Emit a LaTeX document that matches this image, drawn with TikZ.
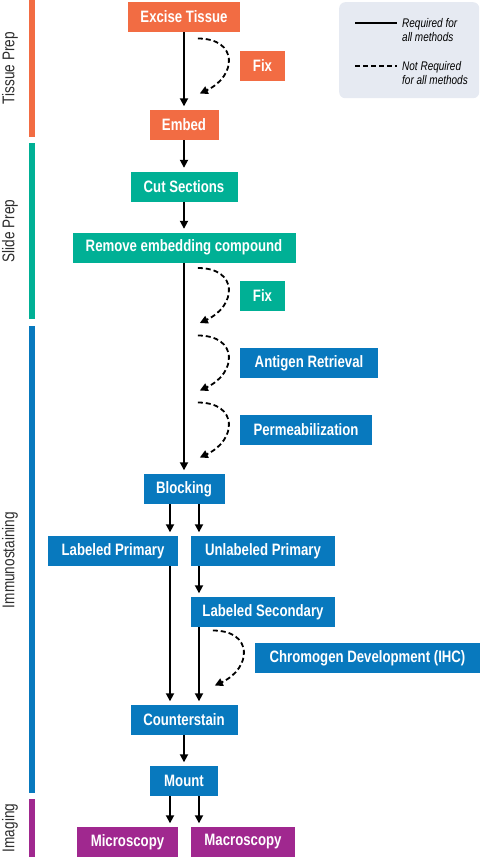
\documentclass[tikz,border=0pt]{standalone}
\usepackage{fontspec}
\setmainfont[FakeStretch=0.8]{Liberation Sans}
\usetikzlibrary{
  arrows.meta,
  positioning,
  calc
}
\definecolor{tissueOrange}{RGB}{242,108,67}
\definecolor{slideTeal}{RGB}{0,176,149}
\definecolor{stainBlue}{RGB}{8,121,190}
\definecolor{imagePurple}{RGB}{160,40,143}
\definecolor{legendGray}{RGB}{230,234,242}
\definecolor{labelGray}{RGB}{45,45,45}
\tikzset{
  stepbox/.style={
    fill=#1,
    text=white,
    inner sep = 0pt,
    minimum height = 30pt,
    font=\bfseries\fontsize{16.5}{18}\selectfont
  },
  sidelabel/.style={
    rotate=90,
    text=labelGray,
    inner sep=0pt,
    font=\fontsize{17}{18}\selectfont
  }
}

\begin{document}
\begin{tikzpicture}[
      x=1pt, y=1pt,
      arr/.style={-{Triangle[length=8pt,width=8pt]}, line width=1.8pt, shorten >=3.5pt},
      dasharr/.style={-{Triangle[length=8pt,width=8pt]}, line width=1.8pt,
        dash pattern=on 5pt off 3pt},
      legendtext/.style={anchor=west, align=left, inner sep=0pt,
        font=\itshape\fontsize{12.5}{14}\selectfont}
      ]
      \useasboundingbox (0,0) rectangle (480,-857);

      % side bars
      \fill[tissueOrange] (29,0) rectangle (35,-137);
      \fill[slideTeal] (29,-143) rectangle (35,-319);
      \fill[stainBlue] (29,-326) rectangle (35,-793);
      \fill[imagePurple] (29,-799) rectangle (35,-857);
      \node[sidelabel] (tissueLabel) at (10,-68) {Tissue Prep};
      \node[sidelabel] (slideLabel) at (10,-231) {Slide Prep};
      \node[sidelabel] (stainLabel) at (10,-560) {Immunostaining};
      \node[sidelabel] (imageLabel) at (10,-828) {Imaging};

      % steps
      \foreach \n/\x/\y/\w/\t in {excise/184/17/112/Excise Tissue,
          fixA/262.5/66/45/Fix, embed/184/125/69/Embed}{
        \node[stepbox=tissueOrange, minimum width=\w pt] (\n) at (\x,-\y) {\t};
      }
      \foreach \n/\x/\y/\w/\t in {cut/184/186.5/107/Cut Sections,
          remove/184/247.5/223/Remove embedding compound,
          fixB/262.5/295.5/45/Fix}{
        \node[stepbox=slideTeal, minimum width=\w pt] (\n) at (\x,-\y) {\t};
      }
      \foreach \n/\x/\y/\w/\t in {antigen/309/363/138/Antigen Retrieval,
          perm/306/430/132/Permeabilization, blocking/184/489/81/Blocking,
          labPrim/113/551/130/Labeled Primary,
          unlabPrim/263/551/144/Unlabeled Primary,
          labSec/263/612/144/Labeled Secondary,
          chromogen/367.5/658/225/Chromogen Development (IHC),
          counter/184/720/107/Counterstain, mount/184/781/68/Mount}{
        \node[stepbox=stainBlue, minimum width=\w pt] (\n) at (\x,-\y) {\t};
      }
      \foreach \n/\x/\y/\w/\t in {micro/127.5/842/101/Microscopy,
          macro/243/842/104/Macroscopy}{
        \node[stepbox=imagePurple, minimum width=\w pt] (\n) at (\x,-\y) {\t};
      }

      % required steps
      \draw[arr] (excise) -- (embed);
      \draw[arr] (embed) -- (cut);
      \draw[arr] (cut) -- (remove);
      \draw[arr] (remove) -- (blocking);
      \draw[arr] ([xshift=-14pt]blocking.south) -- ([xshift=-14pt]blocking.south |- labPrim.north);
      \draw[arr] ([xshift=15pt]blocking.south) -- ([xshift=15pt]blocking.south |- unlabPrim.north);
      \draw[arr] ([xshift=15pt]blocking.south |- unlabPrim.south) -- ([xshift=15pt]blocking.south |- labSec.north);
      \draw[arr] ([xshift=-14pt]blocking.south |- labPrim.south) -- ([xshift=-14pt]blocking.south |- counter.north);
      \draw[arr] ([xshift=15pt]blocking.south |- labSec.south) -- ([xshift=15pt]blocking.south |- counter.north);
      \draw[arr] (counter) -- (mount);
      \draw[arr] ([xshift=-14pt]mount.south) -- ([xshift=-14pt]mount.south |- micro.north);
      \draw[arr] ([xshift=15pt]mount.south) -- ([xshift=15pt]mount.south |- macro.north);

      % optional steps
      \foreach \s in {fixA, fixB, antigen, perm, chromogen}{
        \draw[dasharr] ([shift={(-42,27.5)}]\s.west |- \s.center)
          to[out=0, in=25, looseness=1.9] ([shift={(-40,-27.5)}]\s.west |- \s.center);
      }

      % legend
      \node[fill=legendGray, rounded corners=6pt, minimum width=140pt,
        minimum height=96pt, anchor=north west, inner sep=0pt] (legend) at (339,-2) {};
      \coordinate (solidA) at (355,-23);
      \coordinate (solidB) at (397,-23);
      \coordinate (dashA) at (355,-66);
      \coordinate (dashB) at (397,-66);
      \draw[line width=1.8pt] (solidA) -- (solidB);
      \draw[line width=1.8pt, dash pattern=on 5pt off 3pt] (dashA) -- (dashB);
      \node[legendtext] (reqText) at (402,-30) {Required for\\all methods};
      \node[legendtext] (optText) at (402,-73.5) {Not Required\\for all methods};
    \end{tikzpicture}
\end{document}
